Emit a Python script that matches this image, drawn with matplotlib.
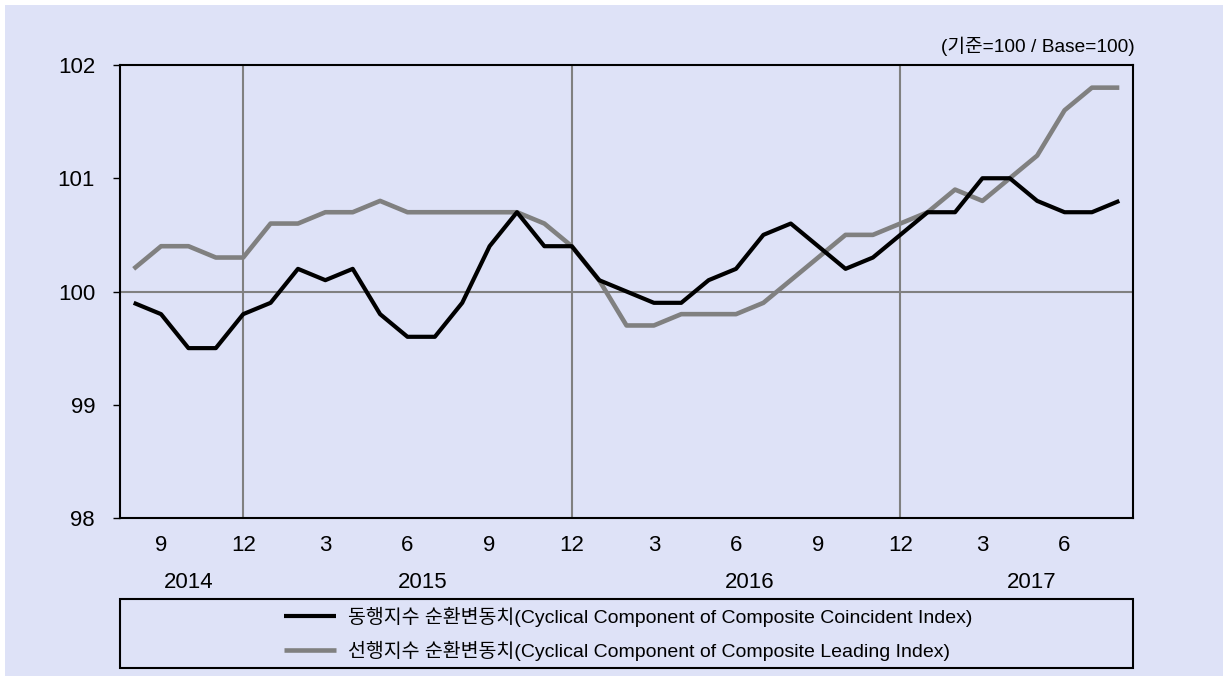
import matplotlib
matplotlib.use("Agg")
import matplotlib.pyplot as plt
from matplotlib.patches import Rectangle
from matplotlib.transforms import blended_transform_factory

plt.rcParams['font.family'] = ['Liberation Sans', 'Noto Sans CJK KR', 'DejaVu Sans']

# Monthly data, 2014-08 .. 2017-08
months = [8, 9, 10, 11, 12,
          1, 2, 3, 4, 5, 6, 7, 8, 9, 10, 11, 12,
          1, 2, 3, 4, 5, 6, 7, 8, 9, 10, 11, 12,
          1, 2, 3, 4, 5, 6, 7, 8]
coincident = [99.9, 99.8, 99.5, 99.5, 99.8,
              99.9, 100.2, 100.1, 100.2, 99.8, 99.6, 99.6, 99.9, 100.4, 100.7, 100.4, 100.4,
              100.1, 100.0, 99.9, 99.9, 100.1, 100.2, 100.5, 100.6, 100.4, 100.2, 100.3, 100.5,
              100.7, 100.7, 101.0, 101.0, 100.8, 100.7, 100.7, 100.8]
leading = [100.2, 100.4, 100.4, 100.3, 100.3,
           100.6, 100.6, 100.7, 100.7, 100.8, 100.7, 100.7, 100.7, 100.7, 100.7, 100.6, 100.4,
           100.1, 99.7, 99.7, 99.8, 99.8, 99.8, 99.9, 100.1, 100.3, 100.5, 100.5, 100.6,
           100.7, 100.9, 100.8, 101.0, 101.2, 101.6, 101.8, 101.8]
month_tick_values = [9, 12, 3, 6]
years = ['2014', '2015', '2016', '2017']
year_label_pos = [2.0, 10.55, 22.5, 32.8]
y_ticks = [98, 99, 100, 101, 102]
label_coincident = '동행지수 순환변동치(Cyclical Component of Composite Coincident Index)'
label_leading = '선행지수 순환변동치(Cyclical Component of Composite Leading Index)'
unit_text = '(기준=100 / Base=100)'

bg = '#DEE2F7'
grid_gray = '#808080'
W, H = 1228, 681

fig = plt.figure(figsize=(W/100, H/100), dpi=100, facecolor='white')
fig.patches.append(Rectangle((5/W, 5/H), (W-10)/W, (H-10)/H, transform=fig.transFigure,
                             facecolor=bg, edgecolor='none', zorder=-10))
ax = fig.add_axes([120/W, 1-518/H, (1133-120)/W, (518-65)/H])
ax.set_facecolor(bg)

x = list(range(len(months)))
n = len(x)
ax.set_xlim(-0.5, n - 0.5)
ax.set_ylim(98, 102)

# reference lines
for i, m in enumerate(months):
    if m == 12:
        ax.axvline(i, color=grid_gray, lw=1.5, zorder=1)
ax.axhline(100, color=grid_gray, lw=1.5, zorder=1)

ax.plot(x, leading, color='#808080', lw=3.3, zorder=3, solid_capstyle='butt',
        label=label_leading)
ax.plot(x, coincident, color='#000000', lw=3.0, zorder=4, solid_capstyle='butt',
        label=label_coincident)

for s in ax.spines.values():
    s.set_color('black')
    s.set_linewidth(1.5)

ax.set_yticks(y_ticks)
ax.set_yticklabels([str(v) for v in y_ticks], fontsize=16)
ax.tick_params(axis='y', length=5, width=1, pad=13, color='black')

xt = [i for i, m in enumerate(months) if m in month_tick_values]
ax.set_xticks(xt)
ax.set_xticklabels([str(months[i]) for i in xt], fontsize=16)
ax.tick_params(axis='x', length=0, pad=12)

trans = blended_transform_factory(ax.transData, fig.transFigure)
for yl, xp in zip(years, year_label_pos):
    ax.text(xp, 1 - 582.5/H, yl, transform=trans, ha='center', va='center', fontsize=16)

fig.text(1135/W, 1 - 46/H, unit_text, ha='right', va='center', fontsize=13.8)

# legend box
fig.patches.append(Rectangle((120/W, 1 - 668/H), (1133-120)/W, 69/H,
                             transform=fig.transFigure, fill=False, edgecolor='black', lw=1.5))
h, l = ax.get_legend_handles_labels()
fig.legend(h[::-1], l[::-1], loc='center', bbox_to_anchor=(628/W, 1 - 634/H),
           frameon=False, fontsize=14, handlelength=2.7, labelspacing=0.72,
           handletextpad=0.6)

fig.savefig('out.png', dpi=100, facecolor='white')
